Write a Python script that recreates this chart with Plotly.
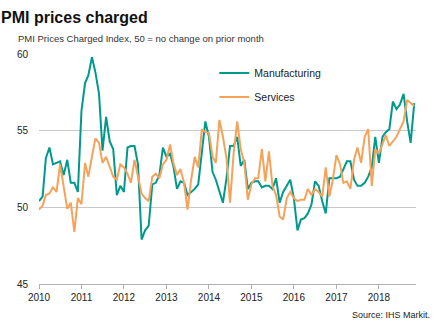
import plotly.graph_objects as go
import pandas as pd

dates = pd.date_range("2010-01-01", periods=107, freq="MS")

manufacturing = [
    50.4, 50.7, 53.2, 53.9, 52.8, 52.9, 53.0, 52.1, 53.1, 51.6, 51.6, 51.0,
    56.3, 58.1, 58.6, 59.8, 58.8, 57.4, 53.7, 55.9, 54.3, 53.8, 50.8, 51.4,
    51.0, 53.9, 54.0, 54.0, 52.8, 47.9, 48.5, 48.8, 51.5, 51.6, 52.1, 53.9,
    53.3, 53.5, 52.7, 51.2, 51.7, 51.6, 50.8, 51.0, 51.2, 51.5, 53.8, 55.6,
    54.6, 52.3, 51.8, 51.0, 50.3, 51.9, 54.0, 54.0, 54.6, 52.7, 53.1, 51.2,
    51.6, 51.7, 51.7, 51.3, 51.4, 51.4, 51.2, 51.9, 50.3, 51.0, 51.4, 51.8,
    50.6, 48.5, 49.2, 49.3, 49.6, 50.2, 51.7, 51.4, 50.4, 49.6, 51.9, 51.9,
    51.9, 52.0, 52.5, 53.0, 53.0, 51.8, 51.4, 51.4, 51.6, 52.0, 52.6, 54.6,
    52.9, 54.6, 54.9, 55.1, 56.9, 56.4, 56.7, 57.4, 55.6, 54.2, 56.8,
]

services = [
    49.85, 50.1, 50.8, 50.9, 51.3, 51.0, 52.8, 51.2, 49.9, 50.3, 48.4, 50.6,
    50.2, 52.9, 52.0, 53.3, 54.5, 54.2, 52.9, 53.3, 52.6, 52.0, 51.8, 52.8,
    52.6, 52.2, 51.6, 53.1, 52.0, 50.9, 50.6, 50.4, 52.0, 52.2, 51.9, 52.8,
    53.1, 54.1, 52.9, 52.1, 52.5, 51.6, 49.85, 51.8, 53.3, 52.6, 55.1, 54.9,
    54.85, 53.3, 52.9, 55.7, 54.6, 53.2, 50.3, 53.5, 55.6, 53.8, 52.9, 50.5,
    51.5, 51.9, 51.9, 53.8, 51.7, 53.65, 51.4, 50.8, 49.4, 49.2, 50.6, 51.0,
    50.6, 50.4, 50.5, 50.5, 51.2, 50.8, 51.2, 51.0, 50.7, 52.6, 50.7, 51.8,
    53.4, 52.8, 51.6, 51.7, 51.2, 53.1, 53.9, 52.9, 54.6, 55.1, 51.4, 53.8,
    53.5, 54.2, 54.7, 54.0, 54.3, 54.6, 55.1, 55.6, 57.0, 56.8, 56.6,
]

year_ticks = [f"{y}-01-01" for y in range(2010, 2019)]
year_labels = [str(y) for y in range(2010, 2019)]

TEAL = "#00998c"
ORANGE = "#f5a25a"
FONT = "Liberation Sans, Arial, sans-serif"

fig = go.Figure()
fig.add_trace(go.Scatter(x=dates, y=manufacturing, mode="lines", name="Manufacturing",
                         line=dict(color=TEAL, width=2), legendgroup="m"))
fig.add_trace(go.Scatter(x=dates, y=services, mode="lines", name="Services",
                         line=dict(color=ORANGE, width=2), legendgroup="s"))

fig.update_layout(
    width=436, height=327,
    margin=dict(l=39, r=20, t=54, b=43),
    paper_bgcolor="white", plot_bgcolor="white",
    font=dict(family=FONT, size=10, color="#222222"),
    showlegend=True,
    legend=dict(x=0.465, y=0.98, xanchor="left", yanchor="top",
                bgcolor="rgba(0,0,0,0)", font=dict(size=10.5, color="#222222"),
                tracegroupgap=5, traceorder="grouped", itemwidth=30),
    xaxis=dict(type="date", range=["2010-01-01", "2018-11-16"],
               tickvals=year_ticks, ticktext=year_labels,
               showgrid=False, showline=True, linecolor="#b0b0b0", linewidth=1,
               ticks="outside", ticklen=4, tickcolor="#b0b0b0",
               tickfont=dict(size=10, color="#222222"), zeroline=False),
    yaxis=dict(range=[45, 60], tickvals=[45, 50, 55, 60],
               showgrid=True, gridcolor="#c8c8c8", gridwidth=1,
               showline=False, ticks="", ticklabelstandoff=10,
               tickfont=dict(size=10, color="#222222"), zeroline=False),
    annotations=[
        dict(text="<b>PMI prices charged</b>", xref="paper", yref="paper",
             x=-40/377, y=1 + 37/230, xanchor="left", yanchor="middle",
             showarrow=False, font=dict(size=16, color="#111111", family=FONT)),
        dict(text="PMI Prices Charged Index, 50 = no change on prior month",
             xref="paper", yref="paper", x=-23/377, y=1 + 15/230,
             xanchor="left", yanchor="middle", showarrow=False,
             font=dict(size=9.5, color="#333333", family=FONT)),
        dict(text="Source: IHS Markit.", xref="paper", yref="paper",
             x=1 + 16/377, y=-24/230, xanchor="right", yanchor="top",
             showarrow=False, font=dict(size=9, color="#222222", family=FONT)),
    ],
)

fig.write_html("out.html")
